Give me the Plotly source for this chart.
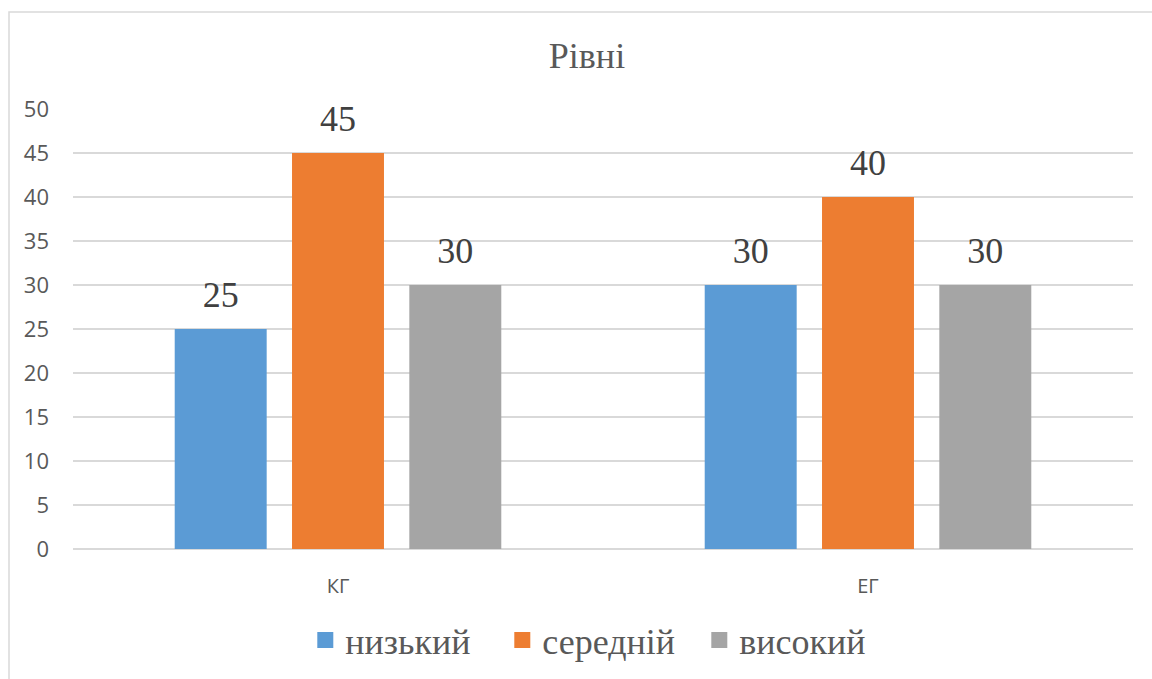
import plotly.graph_objects as go

categories = ["КГ", "ЕГ"]
series_names = ["низький", "середній", "високий"]
low = [25, 30]
mid = [45, 40]
high = [30, 30]
colors = ["#5b9bd5", "#ed7d31", "#a5a5a5"]
y_ticks = [0, 5, 10, 15, 20, 25, 30, 35, 40, 45, 50]

W, H = 1152, 679
l, r, t, b = 73, 19, 109, 130
pw = W - l - r
ph = H - t - b

fig = go.Figure()
for i, (name, vals, col) in enumerate(zip(series_names, [low, mid, high], colors)):
    # bars
    fig.add_trace(go.Bar(
        name=name, x=categories, y=vals, offsetgroup=str(i),
        marker=dict(color=col, line=dict(width=0)), showlegend=False,
    ))
    # value labels above bars (grouped scatter, aligned with bars)
    fig.add_trace(go.Scatter(
        x=categories, y=vals, offsetgroup=str(i), mode="markers+text",
        marker=dict(size=20, opacity=0, color=col),
        text=[str(v) for v in vals], textposition="top center", cliponaxis=False,
        textfont=dict(family="Liberation Serif", size=36, color="#404040"),
        showlegend=False, hoverinfo="skip",
    ))
    # legend entry with a larger square
    fig.add_trace(go.Scatter(
        x=[None], y=[None], xaxis="x2", yaxis="y2", name=name, mode="markers",
        marker=dict(symbol="square", size=19, color=col, line=dict(width=0)),
        showlegend=True,
    ))

fig.update_layout(
    width=W, height=H,
    margin=dict(l=l, r=r, t=t, b=b, autoexpand=False),
    paper_bgcolor="white", plot_bgcolor="white",
    barmode="group", bargap=0.336, bargroupgap=0.216,
    scattermode="group", scattergap=0.336,
    title=dict(text="Рівні", x=587 / W, xanchor="center", y=1 - 55 / H, yanchor="middle",
               font=dict(family="Liberation Serif", size=36, color="#595959")),
    showlegend=True,
    legend=dict(orientation="h", x=(305.3 - l) / pw, xanchor="left", y=-(640 - (t + ph)) / ph,
                yanchor="middle",
                font=dict(family="Liberation Serif", size=36, color="#595959"),
                itemsizing="trace", traceorder="normal", itemwidth=30,
                entrywidth=152, entrywidthmode="pixels"),
    xaxis=dict(showgrid=False, showline=False, ticks="", ticklabelstandoff=23,
               tickfont=dict(family="Open Sans", size=20, color="#595959")),
    yaxis=dict(range=[0, 50], tickvals=y_ticks, showgrid=True, gridcolor="#d9d9d9", gridwidth=1.5,
               zeroline=True, zerolinecolor="#d9d9d9", zerolinewidth=1.5, showline=False,
               ticks="", ticklabelstandoff=23,
               tickfont=dict(family="Open Sans", size=22, color="#595959")),
    xaxis2=dict(overlaying="x", visible=False),
    yaxis2=dict(overlaying="y", visible=False),
    shapes=[dict(type="rect", xref="paper", yref="paper",
                 x0=(9 - l) / pw, x1=1.05, y0=-0.5, y1=(ph + t - 12) / ph,
                 line=dict(color="#d9d9d9", width=1.5), fillcolor="rgba(0,0,0,0)", layer="below")],
)

fig.write_html("out.html", config={"displayModeBar": False},
               post_script="document.body.style.margin='0';document.body.style.overflow='hidden';")
